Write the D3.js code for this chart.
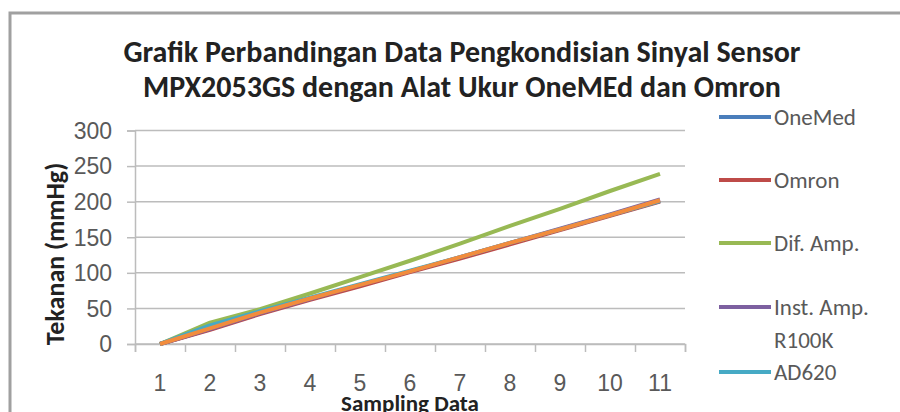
<!DOCTYPE html>
<html lang="id">
<head>
<meta charset="UTF-8">
<title>Grafik Perbandingan Data Pengkondisian Sinyal Sensor</title>
<script src="https://d3js.org/d3.v7.min.js"></script>
<style>
  body { margin: 0; background: #fff; }
  svg { display: block; font-family: Carlito, Lato, "Open Sans", sans-serif; }
</style>
</head>
<body>
<svg id="chart" width="900" height="412"></svg>
<script>
// sampling points on the x axis
const samples = ["1", "2", "3", "4", "5", "6", "7", "8", "9", "10", "11"];

// pressure readings (mmHg) per series
const oneMed   = [0, 21, 43, 63, 82, 102, 121, 141, 161, 181, 201];
const omron    = [0, 20, 42, 62, 81, 101, 120, 140, 160, 180, 200];
const difAmp   = [0, 30, 49, 71, 94, 117, 141, 166, 190, 215, 239];
const instAmp  = [0, 21, 43, 63, 83, 102, 122, 142, 162, 182, 203];
const ad620    = [0, 26, 46, 65, 84, 103, 122, 142, 161, 181, 201];
const series6  = [0, 22, 44, 64, 83, 102, 122, 142, 161, 181, 202]; // legend entry is cut off in the picture

const yTicks = [0, 50, 100, 150, 200, 250, 300];

const seriesList = [
    { name: "OneMed", values: oneMed, color: "#4a7ebb" },
    { name: "Omron", values: omron, color: "#be4b48" },
    { name: "Dif. Amp.", values: difAmp, color: "#98b954" },
    { name: "Inst. Amp. R100K", values: instAmp, color: "#7d60a0" },
    { name: "AD620", values: ad620, color: "#46aac5" },
    { name: "", values: series6, color: "#f28c3c" }
];

const svg = d3.select("#chart");

// outer chart frame (right and bottom edges fall outside the picture)
svg.append("rect")
    .attr("x", 10).attr("y", 13)
    .attr("width", 900).attr("height", 420)
    .attr("fill", "#fff")
    .attr("stroke", "#a0a0a0")
    .attr("stroke-width", 3);

// title
const title = svg.append("text")
    .attr("text-anchor", "middle")
    .attr("font-size", 30)
    .attr("font-weight", "bold")
    .attr("fill", "#222");
title.append("tspan").attr("x", 462).attr("y", 62)
    .text("Grafik Perbandingan  Data Pengkondisian Sinyal Sensor");
title.append("tspan").attr("x", 462).attr("y", 97)
    .text("MPX2053GS dengan Alat Ukur OneMEd dan Omron");

// plot area
const plot = { left: 135, right: 685, top: 130.5, bottom: 344 };

const x = d3.scaleBand()
    .domain(samples)
    .range([plot.left, plot.right])
    .padding(0);

const xEdge = d3.scaleLinear()
    .domain([0, samples.length])
    .range([plot.left, plot.right]);

const y = d3.scaleLinear()
    .domain([0, 300])
    .range([plot.bottom, plot.top]);

const gridColor = "#bcbcbc";

// horizontal gridlines
svg.append("g")
    .selectAll("line")
    .data(yTicks)
    .join("line")
    .attr("x1", plot.left).attr("x2", plot.right)
    .attr("y1", d => y(d)).attr("y2", d => y(d))
    .attr("stroke", gridColor)
    .attr("stroke-width", 1.5);

// y axis
const yAxis = svg.append("g")
    .attr("transform", `translate(${plot.left},0)`)
    .call(d3.axisLeft(y).tickValues(yTicks).tickSize(8).tickPadding(15));
yAxis.select(".domain").attr("stroke", gridColor).attr("stroke-width", 1.5);
yAxis.selectAll(".tick line").attr("stroke", gridColor).attr("stroke-width", 1.5);
yAxis.selectAll(".tick text")
    .attr("font-size", 23)
    .attr("font-family", null)
    .attr("fill", "#595959")
    .attr("dy", "0.34em");

// x axis: tick marks sit between categories, labels in the middle
const xTickAxis = svg.append("g")
    .attr("transform", `translate(0,${plot.bottom})`)
    .call(d3.axisBottom(xEdge).tickValues(d3.range(samples.length + 1)).tickSize(8).tickFormat(""));
xTickAxis.select(".domain").attr("stroke", gridColor).attr("stroke-width", 1.5);
xTickAxis.selectAll(".tick line").attr("stroke", gridColor).attr("stroke-width", 1.5);

const xLabelAxis = svg.append("g")
    .attr("transform", `translate(0,${plot.bottom})`)
    .call(d3.axisBottom(x).tickSize(0));
xLabelAxis.select(".domain").remove();
xLabelAxis.selectAll(".tick text")
    .attr("font-size", 23)
    .attr("font-family", null)
    .attr("fill", "#595959")
    .attr("y", 47)
    .attr("dy", 0);

// axis titles
svg.append("text")
    .attr("transform", `translate(64,254) rotate(-90)`)
    .attr("text-anchor", "middle")
    .attr("font-size", 26)
    .attr("font-weight", "bold")
    .attr("fill", "#222")
    .text("Tekanan (mmHg)");

svg.append("text")
    .attr("x", (plot.left + plot.right) / 2)
    .attr("y", 411)
    .attr("text-anchor", "middle")
    .attr("font-size", 23)
    .attr("font-weight", "bold")
    .attr("fill", "#222")
    .text("Sampling Data");

// series lines
const line = d3.line()
    .x((d, i) => x(samples[i]) + x.bandwidth() / 2)
    .y(d => y(d));

svg.append("g")
    .selectAll("path")
    .data(seriesList)
    .join("path")
    .attr("d", d => line(d.values))
    .attr("fill", "none")
    .attr("stroke", d => d.color)
    .attr("stroke-width", 4)
    .attr("stroke-linejoin", "round");

// legend
const legendRows = [
    { s: seriesList[0], y: 117, lines: ["OneMed"] },
    { s: seriesList[1], y: 180, lines: ["Omron"] },
    { s: seriesList[2], y: 243, lines: ["Dif. Amp."] },
    { s: seriesList[3], y: 307, lines: ["Inst. Amp.", "R100K"] },
    { s: seriesList[4], y: 372, lines: ["AD620"] }
];

const legend = svg.append("g");
const rows = legend.selectAll("g")
    .data(legendRows)
    .join("g")
    .attr("transform", d => `translate(0,${d.y})`);

rows.append("line")
    .attr("x1", 719).attr("x2", 771)
    .attr("stroke", d => d.s.color)
    .attr("stroke-width", 4);

rows.append("text")
    .attr("font-size", 23)
    .attr("fill", "#595959")
    .selectAll("tspan")
    .data(d => d.lines)
    .join("tspan")
    .attr("x", 774)
    .attr("y", (d, i) => i * 33)
    .attr("dy", "0.35em")
    .text(d => d);
</script>
</body>
</html>
